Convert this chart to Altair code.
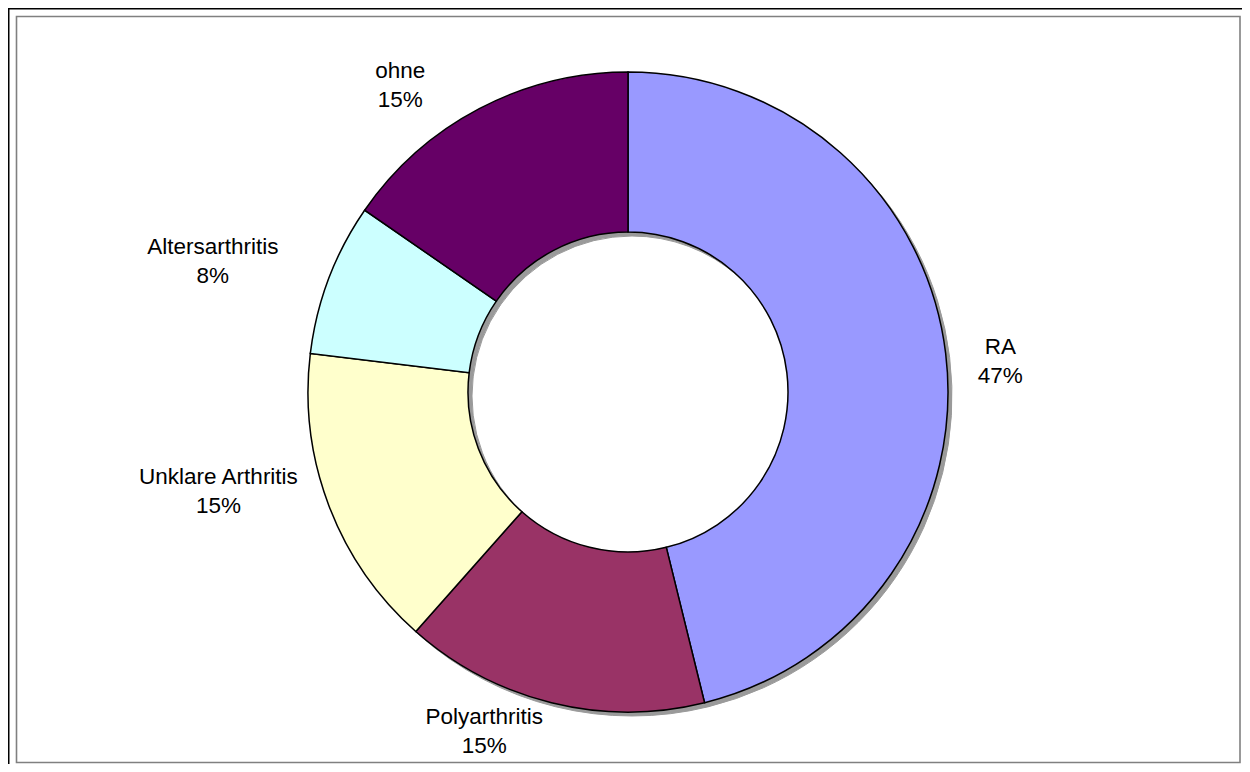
import altair as alt
import pandas as pd

# ---- data ----
categories = ["RA", "Polyarthritis", "Unklare Arthritis", "Altersarthritis", "ohne"]
counts = [6, 2, 2, 1, 2]
pct_labels = ["47%", "15%", "15%", "8%", "15%"]
colors = ["#9999FF", "#993366", "#FFFFCC", "#CCFFFF", "#660066"]

df = pd.DataFrame({
    "cat": categories,
    "count": counts,
    "pct": pct_labels,
    "order": list(range(len(categories))),
})
df["label"] = df["cat"] + "\n" + df["pct"]

# ---- layout (view fits inside the page without overflow) ----
W, H = 1234, 756
CX, CY = 620, 384
R_OUT, R_IN = 320, 160
TOTAL = sum(counts)
FONT = "Liberation Sans"
LINE_H = 29

# label placement: radius, dx, dy (Excel "best fit" style)
LABEL_LAYOUT = {
    "RA": (373, 2, 14),
    "Polyarthritis": (350, -60, 0),
    "Unklare Arthritis": (438, 0, -56),
    "Altersarthritis": (444, 0, 27),
    "ohne": (346, -67, 0),
}

base = alt.Chart(df)
theta = alt.Theta("count:Q", stack=True, scale=alt.Scale(domain=[0, TOTAL]))
order = alt.Order("order:Q", sort="ascending")
color = alt.Color("cat:N", scale=alt.Scale(domain=categories, range=colors), legend=None)

frame_data = alt.Data(values=[{"f": 1}])
outer_frame = alt.Chart(frame_data).mark_rect(
    fillOpacity=0, stroke="black", strokeWidth=2
).encode(x=alt.value(0.5), x2=alt.value(W + 20), y=alt.value(0.5), y2=alt.value(H + 30))

inner_frame = alt.Chart(frame_data).mark_rect(
    fillOpacity=0, stroke="#808080", strokeWidth=1.6
).encode(x=alt.value(8.5), x2=alt.value(1232), y=alt.value(8.5), y2=alt.value(H - 1.5))

shadow = base.mark_arc(
    outerRadius=R_OUT, innerRadius=R_IN, color="#9a9a9a", stroke="#9a9a9a", strokeWidth=1
).encode(theta=theta, order=order, x=alt.value(CX + 4), y=alt.value(CY + 4))

ring = base.mark_arc(
    outerRadius=R_OUT, innerRadius=R_IN, stroke="black", strokeWidth=1.5
).encode(theta=theta, order=order, color=color, x=alt.value(CX), y=alt.value(CY))

lab_base = base.transform_window(
    cum="sum(count)", sort=[alt.SortField("order")], frame=[None, 0]
).transform_calculate(mid="datum.cum - datum.count / 2")

label_layers = []
for cat in categories:
    r, dx, dy = LABEL_LAYOUT[cat]
    label_layers.append(
        lab_base.transform_filter(alt.datum.cat == cat).mark_text(
            radius=r, dx=dx, dy=dy - LINE_H / 2, align="center", baseline="middle",
            lineBreak="\n", fontSize=22.5, lineHeight=LINE_H, font=FONT, color="black"
        ).encode(
            theta=alt.Theta("mid:Q", stack=False, scale=alt.Scale(domain=[0, TOTAL])),
            text="label:N",
            x=alt.value(CX), y=alt.value(CY),
        )
    )

chart = alt.layer(outer_frame, inner_frame, shadow, ring, *label_layers).properties(
    width=W, height=H, autosize=alt.AutoSizeParams(type="none"), padding=0
).configure_view(strokeOpacity=0)

chart.save("out.html", embed_options={"renderer": "svg", "actions": False})
